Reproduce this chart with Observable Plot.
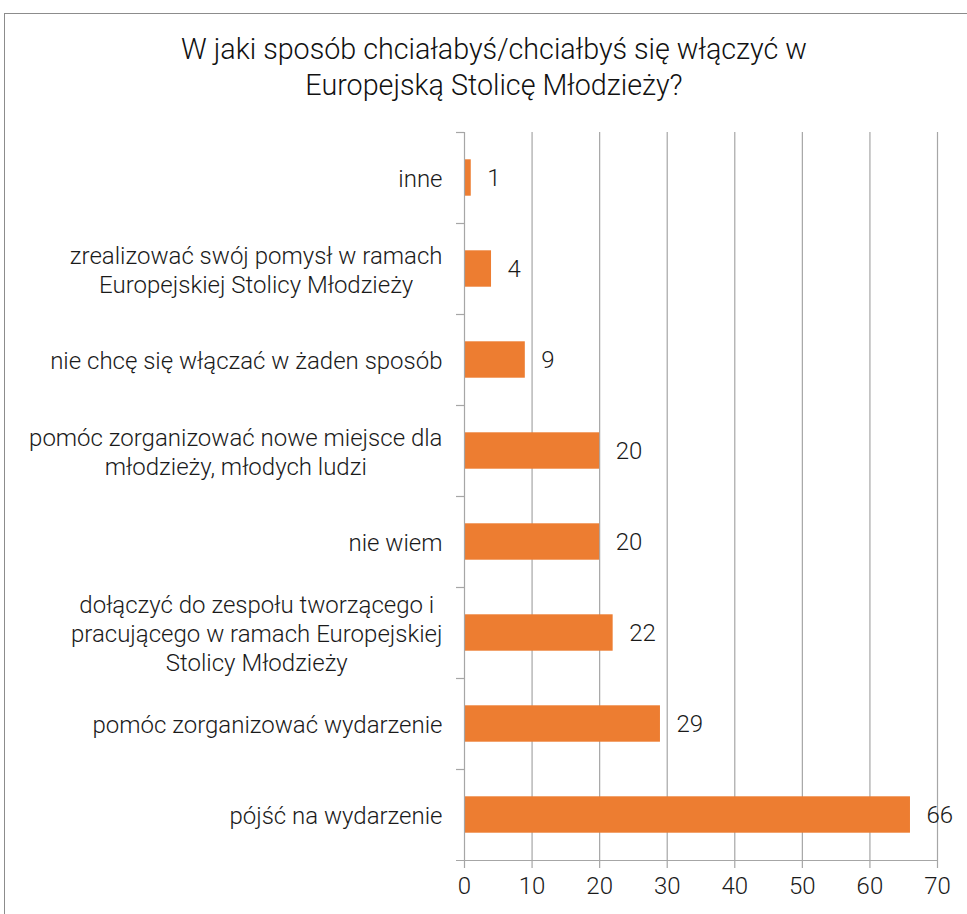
<!DOCTYPE html>
<html><head><meta charset="utf-8">
<script src="https://cdn.jsdelivr.net/npm/d3@7"></script>
<script src="https://cdn.jsdelivr.net/npm/@observablehq/plot@0.6"></script>
<style>
body{margin:0;width:967px;height:914px;overflow:hidden;position:relative;background:#fff;font-family:Roboto,sans-serif}
#frame{position:absolute;left:4px;top:13px;width:1100px;height:1100px;border:1.5px solid #8c8c8c;box-sizing:border-box}
#title{position:absolute;left:0;width:988px;top:31px;text-align:center;font-size:28.7px;font-weight:300;line-height:36px;color:#111}
#chart{position:absolute;left:0;top:0}
#chart text{font-weight:300}
</style></head><body>
<div id="frame"></div>
<div id="chart"></div>
<div id="title">W jaki sposób chciałabyś/chciałbyś się włączyć w<br>Europejską Stolicę Młodzieży?</div>
<script>
const categories = [
  "inne",
  "zrealizować swój pomysł w ramach\nEuropejskiej Stolicy Młodzieży",
  "nie chcę się włączać w żaden sposób",
  "pomóc zorganizować nowe miejsce dla\nmłodzieży, młodych ludzi",
  "nie wiem",
  "dołączyć do zespołu tworzącego i\npracującego w ramach Europejskiej\nStolicy Młodzieży",
  "pomóc zorganizować wydarzenie",
  "pójść na wydarzenie"
];
const values = [1, 4, 9, 20, 20, 22, 29, 66];
const xTicks = [0, 10, 20, 30, 40, 50, 60, 70];

const data = categories.map((c, i) => ({category: c, value: values[i], i}));
const n = categories.length;
const W = 967, H = 914, mt = 132, mb = 54, ml = 464, mr = 30;
const xMax = 70;
const ext = 8 / ((W - ml - mr) / xMax);
const grid = "#a6a6a6";
const ink = "#1a1a1a";
const font = "Roboto, sans-serif";
const fs = 24;

const plot = Plot.plot({
  width: W, height: H,
  marginTop: mt, marginBottom: mb, marginLeft: ml, marginRight: mr,
  style: {fontFamily: font, background: "transparent", overflow: "visible", color: ink},
  x: {domain: [0, xMax]},
  y: {domain: [n, 0]},
  marks: [
    Plot.ruleX(xTicks.slice(1), {stroke: grid, strokeWidth: 1.2}),
    Plot.rectX(data, {x1: 0, x2: "value", y1: d => d.i + 0.3, y2: d => d.i + 0.7, fill: "#ED7D31"}),
    Plot.ruleX([0], {stroke: grid, strokeWidth: 1.2}),
    Plot.ruleY(d3.range(n), {x1: -ext, x2: 0, stroke: grid, strokeWidth: 1.2}),
    Plot.ruleY([n], {x1: -ext, x2: xMax, stroke: grid, strokeWidth: 1.2}),
    Plot.text(data, {x: "value", y: d => d.i + 0.5, text: d => String(d.value), dx: 16, textAnchor: "start", fontSize: fs, fill: ink}),
    Plot.axisX(xTicks, {tickSize: 8, tickPadding: 8, fontSize: fs, stroke: grid, strokeWidth: 1.2, strokeOpacity: 1, fill: ink, tickFormat: d => d, label: null}),
    Plot.axisY(d3.range(n).map(i => i + 0.5), {tickSize: 0, tickPadding: 22, fontSize: fs, lineHeight: 1.21, fill: ink, tickFormat: d => categories[d - 0.5], label: null})
  ]
});
document.getElementById("chart").appendChild(plot);

// center the lines of multi-line category labels within their block (block stays right-aligned)
plot.querySelectorAll("text").forEach(t => {
  const spans = t.querySelectorAll("tspan");
  if (spans.length < 2) return;
  const widths = Array.from(spans, s => s.getComputedTextLength());
  const maxW = Math.max(...widths);
  spans.forEach((s, k) => s.setAttribute("x", -(maxW - widths[k]) / 2));
});
</script>
</body></html>
